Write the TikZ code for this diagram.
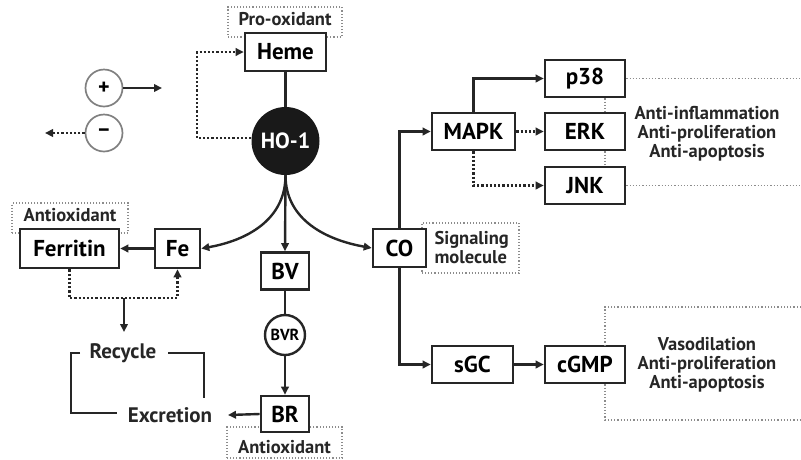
\documentclass[tikz,border=0pt]{standalone}
\usepackage{fontspec}
\setmainfont{PT Sans}
\usetikzlibrary{arrows.meta,calc}
\tikzset{
  box/.style={draw=black!85,line width=2.6pt,fill=white,inner sep=0pt,font=\fontsize{23}{24}\selectfont\bfseries},
  note/.style={draw=black!45,line width=1.1pt,dotted,inner sep=0pt},
  ntext/.style={font=\fontsize{18.5}{19}\selectfont\bfseries,text=black!85,align=center},
  arr/.style={line width=2.4pt,draw=black!85,-{Triangle[length=8pt,width=7.5pt]}},
  ln/.style={line width=2.4pt,draw=black!85},
  darr/.style={line width=2.2pt,draw=black!85,dotted,-{Triangle[length=8pt,width=7.5pt]}},
  gdot/.style={line width=1.2pt,draw=black!45,dotted},
  rtext/.style={font=\fontsize{21}{22}\selectfont\bfseries,text=black!85},
  sign/.style={circle,draw=black!50,line width=1.7pt,minimum size=37pt,inner sep=0pt,font=\fontsize{22}{22}\selectfont\bfseries},
}
\begin{document}
\begin{tikzpicture}[x=1pt,y=-1pt]
\useasboundingbox (0,0) rectangle (801,459);
% annotation boxes (behind)
\node[note,minimum width=114pt,minimum height=30pt] (pro) at (285,22) {};
\node[ntext,anchor=north] (prot) at (285,9) {Pro-oxidant};
\node[note,minimum width=116pt,minimum height=30pt] (anti1) at (70,218) {};
\node[ntext,anchor=north] (anti1t) at (70,205) {Antioxidant};
\node[note,minimum width=115pt,minimum height=31pt] (anti2) at (284.5,442.5) {};
\node[ntext,anchor=south] (anti2t) at (284.5,457) {Antioxidant};
\node[note,minimum width=97pt,minimum height=50pt] (sig) at (470.5,248) {};
\node[ntext,anchor=west,align=left] (sigt) at (431,248) {Signaling\\molecule};
% main boxes
\node[box,minimum width=81pt,minimum height=38pt] (heme) at (285.5,52) {Heme};
\node[circle,fill=black!90,minimum size=68pt,inner sep=0pt,text=white,font=\fontsize{22}{22}\selectfont\bfseries] (ho) at (285.5,141) {HO-1};
\node[box,minimum width=99pt,minimum height=39pt] (fer) at (69.5,248.5) {Ferritin};
\node[box,minimum width=45pt,minimum height=39pt] (fe) at (177.5,248.5) {Fe};
\node[box,minimum width=48pt,minimum height=37pt] (bv) at (285,271) {BV};
\node[circle,draw=black!85,line width=2.4pt,minimum size=40pt,inner sep=0pt,font=\fontsize{16}{16}\selectfont\bfseries] (bvr) at (285,335) {BVR};
\node[box,minimum width=48pt,minimum height=36pt] (br) at (285,414) {BR};
\node[box,minimum width=53pt,minimum height=38pt] (co) at (399.5,248) {CO};
\node[box,minimum width=83pt,minimum height=37pt] (mapk) at (473.5,131.5) {MAPK};
\node[box,minimum width=80pt,minimum height=37pt] (p38) at (585,78.5) {p38};
\node[box,minimum width=80pt,minimum height=37pt] (erk) at (585,131.5) {ERK};
\node[box,minimum width=80pt,minimum height=37pt] (jnk) at (585,185.5) {JNK};
\node[box,minimum width=81pt,minimum height=37pt] (sgc) at (472.5,364.5) {sGC};
\node[box,minimum width=80pt,minimum height=37pt] (cgmp) at (585,364.5) {cGMP};
\node[rtext] (rec) at (123,353) {Recycle};
\node[rtext] (exc) at (170,415) {Excretion};
\node[ntext] (eff1) at (707,134) {Anti-inflammation\\Anti-proliferation\\Anti-apoptosis};
\node[ntext] (eff2) at (707,365) {Vasodilation\\Anti-proliferation\\Anti-apoptosis};
% legend
\node[sign] (plus) at (104,88) {+};
\node[sign] (minus) at (104,133) {\textminus};
\coordinate (plusend) at (162,88);
\coordinate (minusend) at (45,133);
\draw[arr] (plus) -- (plusend);
\draw[darr] (minus) -- (minusend);
% HO-1 connections
\draw[ln] (ho) -- (heme);
\coordinate (hl) at (197,138);
\draw[darr] (ho.west |- hl) -- (hl) |- (heme.west);
\draw[arr] (ho.south) .. controls +(0,45) and +(45,-8) .. (fe.east);
\draw[arr] (ho.south) .. controls +(0,45) and +(-45,-8) .. (co.west);
\draw[arr] (ho.south) -- (bv.north);
% Fe / Ferritin
\draw[arr] (fe) -- (fer);
\coordinate (fj) at (124,298);
\coordinate (fjd) at (124,332);
\draw[darr] (fer.south) |- (fj) -| (fe.south);
\draw[arr] (fj) -- (fjd);
% recycle bracket
\coordinate (r1) at (80,353);
\coordinate (r2) at (71,413);
\coordinate (r3) at (117,413);
\coordinate (r4) at (168,353);
\coordinate (r5) at (204,353);
\coordinate (r6) at (204,398);
\draw[ln] (r1) -| (r2) -- (r3);
\draw[ln] (r4) -- (r5) -- (r6);
% BV path
\draw[ln] (bv) -- (bvr);
\draw[arr] (bvr) -- (br);
\coordinate (excend) at (228,415);
\draw[arr] (br.west) -- (excend);
% CO path
\draw[arr] (co.north) |- (mapk.west);
\draw[arr] (co.south) |- (sgc.west);
\draw[arr] (sgc) -- (cgmp);
\draw[arr] (mapk.north) |- (p38.west);
\draw[darr] (mapk) -- (erk);
\draw[darr] (mapk.south) |- (jnk.west);
% gray dotted brackets
\coordinate (g1) at (801,78.5);
\coordinate (g2) at (801,185.5);
\coordinate (vx) at (605,0);
\draw[gdot] (p38.east) -- (g1);
\draw[gdot] (jnk.east) -- (g2);
\draw[gdot] (vx |- p38.south) -- (vx |- erk.north);
\draw[gdot] (vx |- erk.south) -- (vx |- jnk.north);
\coordinate (c1) at (605,307);
\coordinate (c2) at (801,307);
\coordinate (c3) at (605,420);
\coordinate (c4) at (801,420);
\draw[gdot] (c2) -- (c1) -- (c1 |- cgmp.north);
\draw[gdot] (c1 |- cgmp.south) -- (c3) -- (c4);
\end{tikzpicture}
\end{document}
